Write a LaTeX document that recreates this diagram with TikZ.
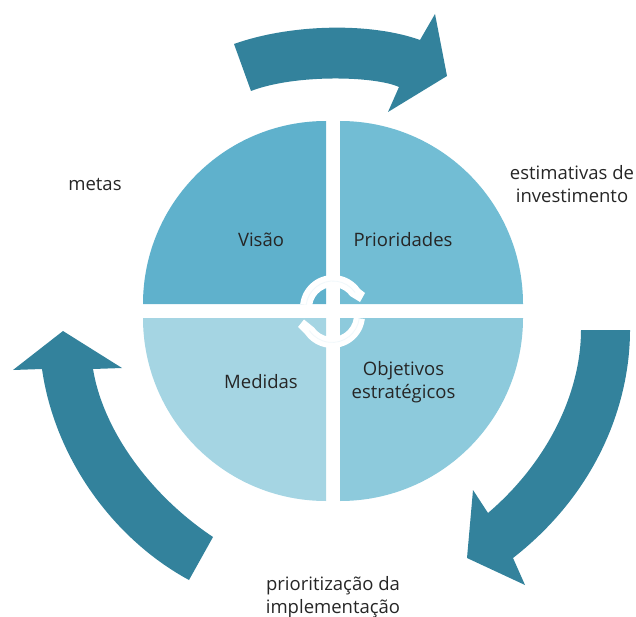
\documentclass[tikz,border=0pt]{standalone}
\usepackage{xcolor}
\usepackage{fontspec}
\setmainfont{Open Sans}
\definecolor{arrowteal}{HTML}{33829C}
\definecolor{quadvisao}{HTML}{5FB1CC}
\definecolor{quadprior}{HTML}{72BDD4}
\definecolor{quadobjet}{HTML}{8DCADC}
\definecolor{quadmedid}{HTML}{A5D5E3}
\usetikzlibrary{positioning}

\begin{document}
\begin{tikzpicture}[
    x=1pt, y=-1pt,
    sweep/.style={fill=arrowteal},
    ring/.style={fill=white},
    ringline/.style={draw=white!90!quadprior, line width=0.8pt},
    label/.style={align=center, inner sep=0pt, font=\fontsize{18.5}{23}\selectfont, text=black!85}
]
\useasboundingbox (0,0) rectangle (636,617);

% quadrants
\fill[quadvisao] (326,304) -- (143,304) arc[start angle=180, end angle=270, radius=183] -- cycle;
\fill[quadprior] (340,304) -- (340,121) arc[start angle=270, end angle=360, radius=183] -- cycle;
\fill[quadobjet] (340,318) -- (523,318) arc[start angle=0, end angle=90, radius=183] -- cycle;
\fill[quadmedid] (326,318) -- (326,501) arc[start angle=90, end angle=180, radius=183] -- cycle;

% outer arrows
\fill[sweep] (234,44) .. controls (290,24) and (370,22) .. (420,40) -- (435,14) -- (447,76) -- (388,112) -- (399,87)
    .. controls (375,76) and (295,74) .. (251,91) -- cycle;
\fill[sweep] (581,330) -- (630,330) .. controls (630,400) and (600,490) .. (513,558) -- (525,585) -- (467,558) -- (473,490) -- (488,513)
    .. controls (550,460) and (581,390) .. (581,330) -- cycle;
\fill[sweep] (213,537) .. controls (150,495) and (103,430) .. (93,369) -- (122,368) -- (63,331) -- (13,370) -- (42,369)
    .. controls (55,460) and (115,540) .. (189,580) -- cycle;

% centre ring
\fill[ring] (300.2,304) arc[start angle=187, end angle=325, radius=33] -- (365,293) -- (360,302) -- (350.2,296)
    arc[start angle=325, end angle=187, radius=21] -- cycle;
\fill[ring] (364.8,319) arc[start angle=7, end angle=145, radius=33] -- (298,327) -- (304,319.5) -- (314,327.6)
    arc[start angle=145, end angle=7, radius=22] -- cycle;
\draw[ringline] (306.2,304.7) arc[start angle=187, end angle=325, radius=27];
\draw[ringline] (359.3,318.3) arc[start angle=7, end angle=145, radius=27.5];

\node[label] (visao) at (261,240) {Visão};
\node[label] (prioridades) at (403,240) {Prioridades};
\node[label] (medidas) at (261,382) {Medidas};
\node[label] (objetivos) at (403.5,382) {Objetivos\\estratégicos};
\node[label] (metas) at (95,184) {metas};
\node[label] (estimativas) at (572,184) {estimativas de\\investimento};
\node[label] (prioritizacao) at (333,597) {prioritização da\\implementação};

\end{tikzpicture}
\end{document}
